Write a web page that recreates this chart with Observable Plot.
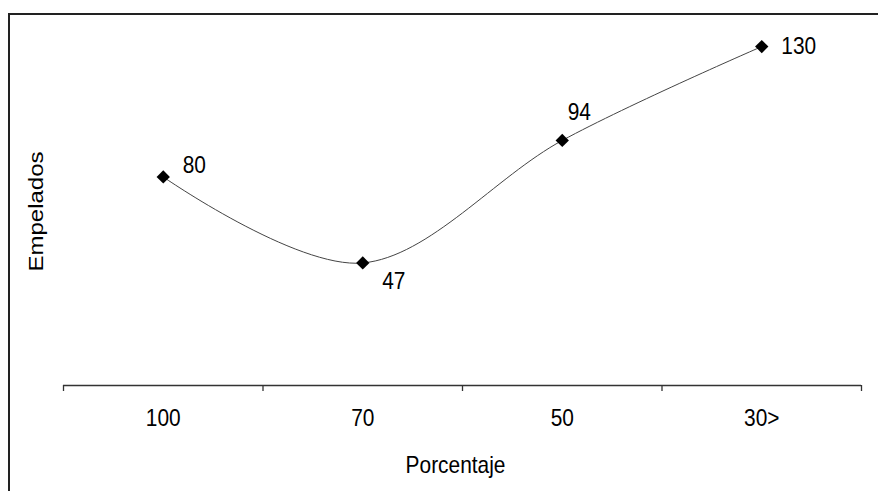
<!DOCTYPE html>
<html><head><meta charset="utf-8">
<script src="https://cdn.jsdelivr.net/npm/d3@7"></script>
<script src="https://cdn.jsdelivr.net/npm/@observablehq/plot@0.6"></script>
<style>
html,body{margin:0;padding:0;background:#fff;}
#wrap{position:relative;width:878px;height:491px;overflow:hidden;}
#frame{position:absolute;left:8px;top:13px;width:900px;height:500px;border-left:2px solid #222;border-top:2px solid #222;box-sizing:border-box;pointer-events:none;}
svg{font-family:"Liberation Sans",Arial,sans-serif;}
</style></head>
<body><div id="wrap"><div id="frame"></div></div>
<script>
const categories = ["100", "70", "50", "30>"];
const empleados = [80, 47, 94, 130];
const labelDx = [31, 31, 17, 37];
const labelDy = [-12, 18, -28, 0];

const data = categories.map((c, i) => ({i, c, v: empleados[i], dx: labelDx[i], dy: labelDy[i]}));
const bounds = d3.range(categories.length + 1).map(k => k - 0.5);
const font = 24;
const squeeze = 0.87;

const chart = Plot.plot({
  width: 878, height: 491,
  marginLeft: 63, marginRight: 17, marginTop: 20, marginBottom: 106,
  x: {type: "linear", domain: [-0.5, categories.length - 0.5], axis: null},
  y: {domain: [0, 140], axis: null},
  style: {fontSize: font + "px", background: "transparent"},
  marks: [
    Plot.ruleY([0], {stroke: "#333", strokeWidth: 1.3}),
    Plot.axisX({ticks: bounds, tickFormat: () => "", tickSize: 6, stroke: "#333", strokeWidth: 1.3, anchor: "bottom", label: null}),
    Plot.text(data, {x: "i", y: 0, text: "c", dy: 33, fontSize: font, fill: "#000"}),
    Plot.line(data, {x: "i", y: "v", curve: "cardinal", stroke: "#444", strokeWidth: 1}),
    Plot.dot(data, {x: "i", y: "v", symbol: "diamond2", r: 6, fill: "#000", stroke: "none"}),
    ...data.map(d => Plot.text([d], {x: "i", y: "v", text: x => String(x.v), dx: d.dx, dy: d.dy, fontSize: font, fill: "#000"})),
    Plot.text(["Porcentaje"], {frameAnchor: "bottom", textAnchor: "middle", lineAnchor: "middle", dx: -7, dy: 80, fontSize: font, fill: "#000"}),
    Plot.text(["Empelados"], {frameAnchor: "left", textAnchor: "middle", lineAnchor: "middle", dx: -27, dy: 8.5, rotate: -90, fontSize: font, fill: "#000"})
  ]
});
// horizontal squeeze of glyphs to match the reference's narrower lettering
chart.querySelectorAll("text").forEach(t => {
  const tr = t.getAttribute("transform") || "";
  if (!tr) return;
  const rotated = /rotate\(\s*-?90/.test(tr);
  t.setAttribute("transform", tr + (rotated ? ` scale(1,${squeeze})` : ` scale(${squeeze},1)`));
});
document.getElementById("wrap").prepend(chart);
</script>
</body></html>
